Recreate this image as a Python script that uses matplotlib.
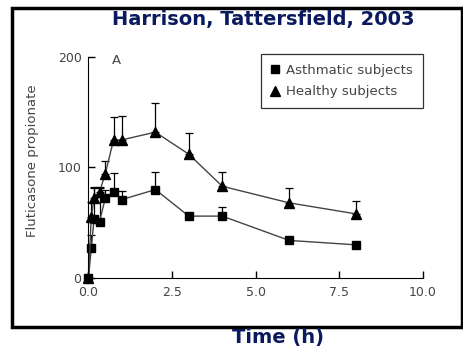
import numpy as np
import matplotlib.pyplot as plt
from matplotlib.patches import Rectangle

# time points (h)
t = np.array([0, 0.083, 0.167, 0.33, 0.5, 0.75, 1, 2, 3, 4, 6, 8])

# Asthmatic subjects (squares), mean and upper SE
asth = np.array([0, 27, 53, 51, 72, 78, 71, 80, 56, 56, 34, 30])
asth_err = np.array([0, 12, 28, 30, 8, 17, 8, 16, 0, 8, 0, 0])

# Healthy subjects (triangles), mean and upper SE
heal = np.array([0, 55, 72, 78, 94, 125, 125, 132, 112, 83, 68, 58])
heal_err = np.array([0, 14, 10, 4, 12, 21, 22, 26, 19, 13, 13, 12])

xticks = [0.0, 2.5, 5.0, 7.5, 10.0]
yticks = [0, 100, 200]

plt.rcParams['font.family'] = ['DejaVu Sans']
navy = '#0b1a5e'
txt = '#444444'

fig = plt.figure(figsize=(4.64, 3.54), dpi=100)
ax = fig.add_axes([0.1907, 0.2147, 0.7209, 0.6243])

# outer frame round the whole panel
fig.patches.append(Rectangle((0.026, 0.076), 0.97, 0.901, transform=fig.transFigure,
                             fill=False, edgecolor='black', linewidth=2.5))

ax.errorbar(t, asth, yerr=[np.zeros_like(asth_err), asth_err], fmt='none',
            ecolor='black', elinewidth=0.9, capsize=3, capthick=0.9, clip_on=False)
ax.errorbar(t, heal, yerr=[np.zeros_like(heal_err), heal_err], fmt='none',
            ecolor='black', elinewidth=0.9, capsize=3, capthick=0.9, clip_on=False)
ax.plot(t, asth, color='#444444', lw=1, marker='s', ms=6, mfc='black', mec='black',
        label='Asthmatic subjects', clip_on=False)
ax.plot(t, heal, color='#444444', lw=1, marker='^', ms=6.5, mfc='black', mec='black',
        label='Healthy subjects', clip_on=False)

ax.set_xlim(0, 10)
ax.set_ylim(0, 200)
ax.set_xticks(xticks)
ax.set_xticklabels(['%.1f' % v for v in xticks])
ax.set_yticks(yticks)
ax.spines['top'].set_visible(False)
ax.spines['right'].set_visible(False)
ax.tick_params(direction='in', length=5, width=1, labelsize=9, labelcolor=txt)
ax.tick_params(axis='x', pad=5.5)
ax.tick_params(axis='y', pad=5)

ax.text(0.7, 197, 'A', fontsize=9.5, color=txt, va='center')

leg = ax.legend(loc='upper right', bbox_to_anchor=(1.0, 1.014), fontsize=9.5,
                frameon=True, fancybox=False, handlelength=0.7, handletextpad=0.5,
                borderpad=0.75, labelspacing=0.65, borderaxespad=0)
leg.get_frame().set_edgecolor('black')
leg.get_frame().set_linewidth(0.9)
for h in leg.legend_handles:
    h.set_linestyle('none')
for tx in leg.get_texts():
    tx.set_color(txt)

fig.text(33 / 464, 1 - 161 / 354, 'Fluticasone propionate', rotation=90,
         fontsize=9.5, color=txt, ha='center', va='center')
fig.text(0.568, 1 - 20 / 354, 'Harrison, Tattersfield, 2003', fontsize=14,
         fontweight='bold', color=navy, ha='center', va='center')
fig.text(0.599, 1 - 338 / 354, 'Time (h)', fontsize=14,
         fontweight='bold', color=navy, ha='center', va='center')

fig.savefig('out.png', dpi=100)
